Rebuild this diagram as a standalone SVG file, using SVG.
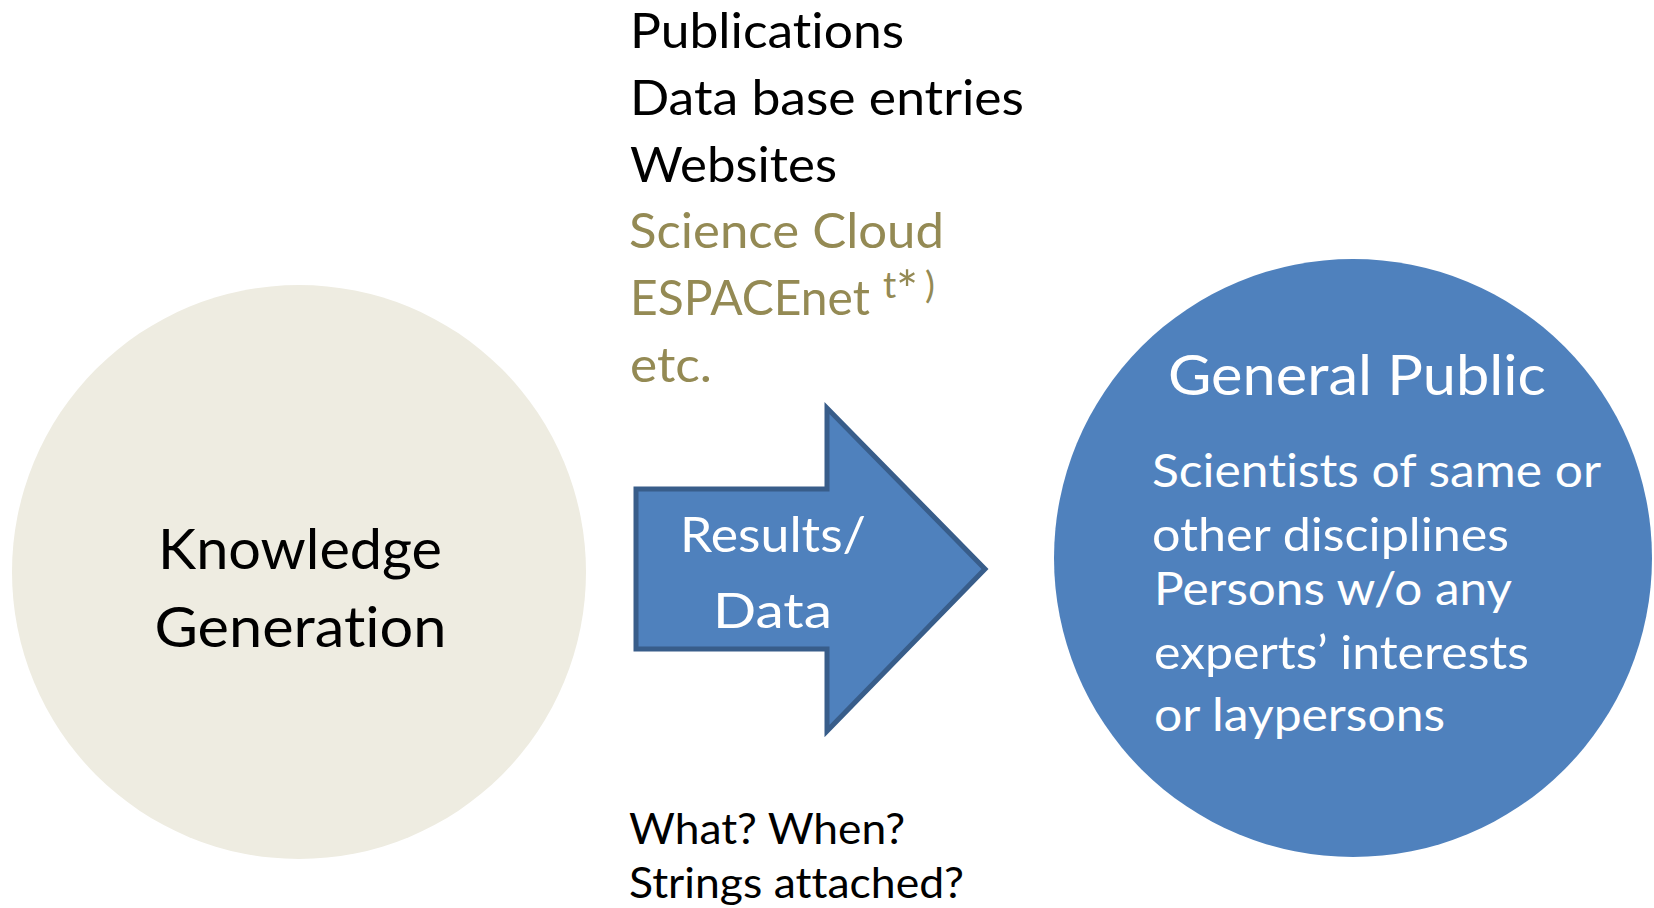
<svg xmlns="http://www.w3.org/2000/svg" width="1654" height="908" viewBox="0 0 1654 908">
  <style>
    .t { font-family: Lato, "Open Sans", "Liberation Sans", sans-serif; font-variant-ligatures: none; font-feature-settings: "liga" 0, "clig" 0; }
    .black { fill: #000000; }
    .olive { fill: #948A54; }
    .white { fill: #FFFFFF; }
  </style>
  <rect width="1654" height="908" fill="#FFFFFF"/>

  <!-- source node -->
  <g id="node-knowledge">
    <circle cx="299" cy="572" r="287" fill="#EEECE1"/>
    <text class="t black" x="300" y="568.5" font-size="57" text-anchor="middle" textLength="284" lengthAdjust="spacingAndGlyphs">Knowledge</text>
    <text class="t black" x="300.5" y="647" font-size="57" text-anchor="middle" textLength="292" lengthAdjust="spacingAndGlyphs">Generation</text>
  </g>

  <!-- target node -->
  <g id="node-public">
    <circle cx="1353" cy="558" r="299" fill="#4F81BD"/>
    <text class="t white" x="1168" y="395" font-size="56" textLength="378" lengthAdjust="spacingAndGlyphs">General Public</text>
    <g font-size="46">
      <text class="t white" x="1152" y="487" textLength="449" lengthAdjust="spacingAndGlyphs">Scientists of same or</text>
      <text class="t white" x="1152" y="551" textLength="357" lengthAdjust="spacingAndGlyphs">other disciplines</text>
      <text class="t white" x="1154" y="604.5" textLength="358" lengthAdjust="spacingAndGlyphs">Persons w/o any</text>
      <text class="t white" x="1154" y="668.5" textLength="375" lengthAdjust="spacingAndGlyphs">experts’ interests</text>
      <text class="t white" x="1154" y="731" textLength="291" lengthAdjust="spacingAndGlyphs">or laypersons</text>
    </g>
  </g>

  <!-- block arrow carrying results -->
  <g id="connectors">
    <polygon points="636,489 827,489 827,408 985,569 827,731 827,649 636,649" fill="#4F81BD" stroke="#385D8A" stroke-width="5" stroke-linejoin="miter"/>
    <text class="t white" x="773" y="552" font-size="49" text-anchor="middle" textLength="186" lengthAdjust="spacingAndGlyphs">Results/</text>
    <text class="t white" x="772.5" y="628.3" font-size="49" text-anchor="middle" textLength="119" lengthAdjust="spacingAndGlyphs">Data</text>
  </g>

  <!-- publication channels -->
  <g id="channels" font-size="49">
    <text class="t black" x="630" y="48.3" textLength="274" lengthAdjust="spacingAndGlyphs">Publications</text>
    <text class="t black" x="630" y="115" textLength="394" lengthAdjust="spacingAndGlyphs">Data base entries</text>
    <text class="t black" x="630" y="181.7" textLength="207" lengthAdjust="spacingAndGlyphs">Websites</text>
    <text class="t olive" x="629" y="248.3" textLength="315" lengthAdjust="spacingAndGlyphs">Science Cloud</text>
    <text class="t olive" x="630" y="315" textLength="240" lengthAdjust="spacingAndGlyphs">ESPACEnet</text>
    <!-- footnote mark, superscript -->
    <text class="t olive" y="298" font-size="37"><tspan x="883">t</tspan><tspan x="896" y="309" font-size="52">*</tspan><tspan x="925" y="298">)</tspan></text>
    <text class="t olive" x="630" y="381.7" textLength="82" lengthAdjust="spacingAndGlyphs">etc.</text>
  </g>

  <!-- open questions -->
  <g id="questions" font-size="42">
    <text class="t black" x="629" y="844" textLength="276" lengthAdjust="spacingAndGlyphs">What? When?</text>
    <text class="t black" x="629" y="898.3" textLength="335" lengthAdjust="spacingAndGlyphs">Strings attached?</text>
  </g>
</svg>
